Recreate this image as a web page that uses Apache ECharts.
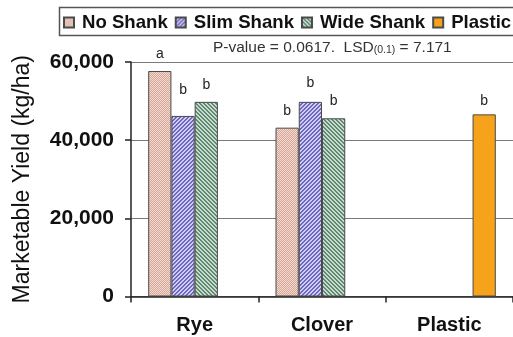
<!DOCTYPE html>
<html>
<head>
<meta charset="utf-8">
<script src="https://cdn.jsdelivr.net/npm/echarts@6/dist/echarts.min.js"></script>
<style>
  html, body { margin: 0; padding: 0; background: #ffffff; }
  #chart { width: 513px; height: 337px; }
</style>
</head>
<body>
<div id="chart"></div>
<script>
// Cover crop groups and tillage treatments
const categories = ['Rye', 'Clover', 'Plastic'];
const seriesNames = ['No Shank', 'Slim Shank', 'Wide Shank', 'Plastic'];

// Marketable yield, kg/ha
const noShank   = [57700, 43200, null];
const slimShank = [46200, 49800, null];
const wideShank = [49800, 45600, null];
const plastic   = [null, null, 46600];

// Mean-separation letters shown above each bar
const noShankLetters   = ['a', 'b', null];
const slimShankLetters = ['b', 'b', null];
const wideShankLetters = ['b', 'b', null];
const plasticLetters   = [null, null, 'b'];

const yTicks = [0, 20000, 40000, 60000];

// Small repeating tiles used as bar fills
function tile(size, painter) {
  const c = document.createElement('canvas');
  c.width = size; c.height = size;
  const ctx = c.getContext('2d');
  for (let y = 0; y < size; y++) {
    for (let x = 0; x < size; x++) {
      ctx.fillStyle = painter(x, y);
      ctx.fillRect(x, y, 1, 1);
    }
  }
  return { image: c, repeat: 'repeat' };
}
const checkFill = tile(2, (x, y) => ((x + y) % 2 === 0 ? '#f4dad1' : '#d4a698'));
const slashFill = tile(4, (x, y) => ((x + y) % 4 < 2 ? '#6f68c2' : '#cfcdf0'));
const backFill  = tile(4, (x, y) => ((x - y + 8) % 4 < 2 ? '#5e8a72' : '#cadccf'));
const orangeFill = '#f6a31b';

function buildData(values, letters, extraDistance) {
  return values.map((v, i) => ({
    value: v,
    label: {
      show: letters[i] != null,
      formatter: letters[i] || '',
      distance: (extraDistance && extraDistance[i]) || 10
    }
  }));
}

const fills = [checkFill, slashFill, backFill, orangeFill];
const valueSets = [noShank, slimShank, wideShank, plastic];
const letterSets = [noShankLetters, slimShankLetters, wideShankLetters, plasticLetters];
const distances = [null, [19, 12, 10], null, [6, 6, 6]];

const chart = echarts.init(document.getElementById('chart'), null, { renderer: 'canvas' });

const series = seriesNames.map((name, k) => ({
  name: name,
  type: 'bar',
  barGap: '0%',
  barCategoryGap: '27%',
  itemStyle: { color: fills[k], borderColor: '#4a4a4a', borderWidth: 1 },
  label: {
    show: true,
    position: 'top',
    color: '#222',
    fontFamily: 'Liberation Sans',
    fontSize: 14
  },
  data: buildData(valueSets[k], letterSets[k], distances[k])
}));

chart.setOption({
  backgroundColor: '#ffffff',
  animation: false,
  title: {
    text: '{n|P-value = 0.0617.  LSD}{s|(0.1)}{n| = 7.171}',
    left: 213,
    top: 39,
    padding: 0,
    textStyle: {
      fontWeight: 'normal',
      rich: {
        n: { fontFamily: 'Liberation Sans', fontWeight: 'normal', fontSize: 15.5, color: '#333', lineHeight: 17, verticalAlign: 'bottom' },
        s: { fontFamily: 'Liberation Sans', fontWeight: 'normal', fontSize: 10.5, color: '#333', lineHeight: 17, verticalAlign: 'bottom', padding: [5, 0, 0, 0] }
      }
    }
  },
  legend: {
    data: seriesNames,
    left: 63,
    top: 13,
    padding: 0,
    icon: 'rect',
    itemWidth: 10,
    itemHeight: 10,
    itemGap: 7,
    selectedMode: false,
    textStyle: {
      fontFamily: 'Liberation Sans',
      fontSize: 18.6,
      fontWeight: 'bold',
      color: '#111',
      padding: [0, 0, 0, 3]
    }
  },
  graphic: [{
    type: 'rect',
    shape: { x: 59.5, y: 7.5, width: 470, height: 28 },
    style: { fill: 'none', stroke: '#555', lineWidth: 1.5 },
    silent: true
  }],
  grid: { left: 131, right: -4, top: 62, bottom: 40.5, containLabel: false },
  xAxis: {
    type: 'category',
    data: categories,
    axisLine: { lineStyle: { color: '#222', width: 1.5 } },
    axisTick: { show: true, length: 6, lineStyle: { color: '#222', width: 1.5 } },
    axisLabel: {
      margin: 19,
      fontFamily: 'Liberation Sans',
      fontSize: 20,
      fontWeight: 'bold',
      color: '#111'
    }
  },
  yAxis: {
    type: 'value',
    min: yTicks[0],
    max: yTicks[yTicks.length - 1],
    interval: yTicks[1] - yTicks[0],
    name: 'Marketable Yield (kg/ha)',
    nameLocation: 'middle',
    nameGap: 97,
    nameTextStyle: { fontFamily: 'Liberation Sans', fontSize: 23, color: '#111' },
    axisLine: { show: true, lineStyle: { color: '#222', width: 1.5 } },
    axisTick: { show: true, length: 6, lineStyle: { color: '#222', width: 1.5 } },
    splitLine: { show: true, lineStyle: { color: '#7a7a7a', width: 1 } },
    axisLabel: {
      margin: 17,
      fontFamily: 'Liberation Sans',
      fontSize: 21,
      fontWeight: 'bold',
      color: '#111',
      formatter: v => v.toLocaleString('en-US')
    }
  },
  series: series
});
</script>
</body>
</html>
